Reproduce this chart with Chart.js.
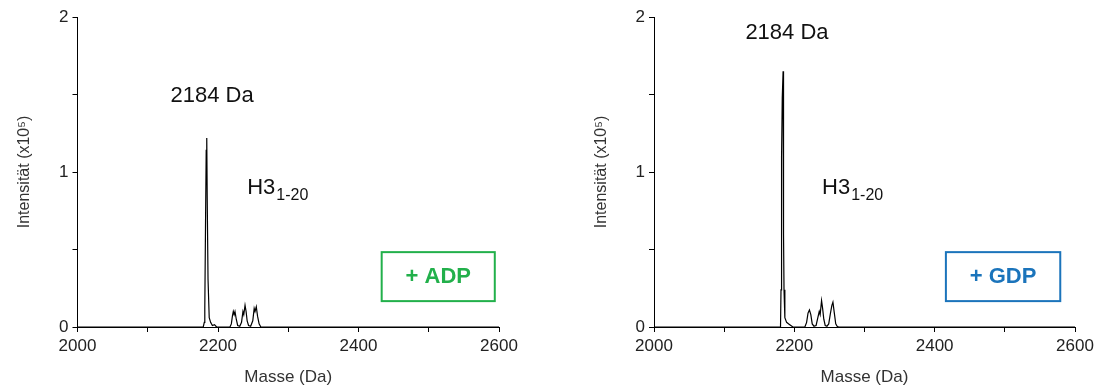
<!DOCTYPE html>
<html>
<head>
<meta charset="utf-8">
<script src="https://cdn.jsdelivr.net/npm/chart.js@4/dist/chart.umd.min.js"></script>
<style>
  html, body { margin: 0; padding: 0; background: #fff; }
  #wrap { position: relative; width: 1098px; height: 390px; }
  canvas { position: absolute; top: 0; }
  #adp { left: 0; }
  #gdp { left: 549px; }
</style>
</head>
<body>
<div id="wrap">
  <canvas id="adp" width="549" height="390"></canvas>
  <canvas id="gdp" width="549" height="390"></canvas>
</div>
<script>
// Axis tick labels
const massTicks = [2000, 2200, 2400, 2600];
const intensityTicks = [0, 1, 2];

// Spectrum with ADP: mass (Da) and intensity (x10^5)
const adpMass = [2000, 2179, 2180.5, 2181.2, 2182.2, 2183.2, 2184, 2184.6, 2185.8, 2187.5, 2189.5, 2192, 2195, 2198,
  2217, 2219, 2220.5, 2221.8, 2223, 2224.2, 2226, 2228, 2231, 2233.5, 2235.5, 2236.7, 2238.5, 2240, 2241.5, 2243.5,
  2246.5, 2249.5, 2251.5, 2252.7, 2254.5, 2256.3, 2258.5, 2261, 2600];
const adpIntensity = [0, 0, 0.03, 0.12, 0.64, 1.14, 1.22, 0.85, 0.31, 0.06, 0.03, 0.01, 0.015, 0,
  0, 0.02, 0.07, 0.1, 0.08, 0.1, 0.05, 0.01, 0.005, 0.03, 0.1, 0.08, 0.14, 0.1, 0.04, 0.01,
  0.005, 0.04, 0.12, 0.1, 0.13, 0.07, 0.02, 0, 0];

// Spectrum with GDP: mass (Da) and intensity (x10^5)
const gdpMass = [2000, 2180.3, 2181, 2181.8, 2182.8, 2184, 2184.4, 2184.8, 2185.3, 2186.5, 2189, 2192, 2195, 2198,
  2215, 2217.5, 2219.5, 2221.5, 2223.5, 2225.5, 2228, 2231, 2233.5, 2235.5, 2236.8, 2238.8, 2240.3, 2242, 2244,
  2246.5, 2249, 2251.5, 2253.5, 2255, 2257, 2259, 2261, 2263, 2600];
const gdpIntensity = [0, 0, 0.24, 1.1, 1.48, 1.65, 1.4, 0.6, 0.24, 0.06, 0.03, 0.02, 0.01, 0,
  0, 0.03, 0.09, 0.11, 0.08, 0.02, 0.005, 0.01, 0.06, 0.1, 0.08, 0.17, 0.12, 0.05, 0.01,
  0.005, 0.02, 0.09, 0.14, 0.16, 0.09, 0.02, 0.005, 0, 0];

// Text
const peakLabel = '2184 Da';
const peptideName = 'H3';
const peptideRange = '1-20';
const xTitle = 'Masse (Da)';
const yTitle = 'Intensität (x10⁵)';

const FONT = '"Liberation Sans", Arial, sans-serif';

// Draws the peak label, peptide name and the boxed condition tag
const notes = {
  id: 'notes',
  afterDatasetsDraw(chart, args, o) {
    const { ctx, scales: { x, y } } = chart;
    ctx.save();
    ctx.fillStyle = '#111';
    ctx.textBaseline = 'middle';

    ctx.font = '22px ' + FONT;
    ctx.textAlign = 'center';
    ctx.fillText(peakLabel, x.getPixelForValue(o.peakAt[0]), y.getPixelForValue(o.peakAt[1]));

    const hx = x.getPixelForValue(o.nameAt[0]);
    const hy = y.getPixelForValue(o.nameAt[1]);
    ctx.textAlign = 'left';
    ctx.fillText(peptideName, hx, hy);
    const w = ctx.measureText(peptideName).width;
    ctx.font = '16px ' + FONT;
    ctx.fillText(peptideRange, hx + w + 1, hy + 8);

    const bx0 = x.getPixelForValue(o.box[0]);
    const bx1 = x.getPixelForValue(o.box[1]);
    const byTop = y.getPixelForValue(o.box[3]);
    const byBot = y.getPixelForValue(o.box[2]);
    ctx.strokeStyle = o.color;
    ctx.lineWidth = 2;
    ctx.strokeRect(bx0, byTop, bx1 - bx0, byBot - byTop);
    ctx.fillStyle = o.color;
    ctx.font = 'bold 22px ' + FONT;
    ctx.textAlign = 'center';
    ctx.fillText(o.tag, (bx0 + bx1) / 2, (byTop + byBot) / 2);
    ctx.restore();
  }
};

function makeChart(id, mass, intensity, o) {
  return new Chart(document.getElementById(id), {
    type: 'scatter',
    data: {
      datasets: [{
        data: mass.map((m, i) => ({ x: m, y: intensity[i] })),
        showLine: true,
        borderColor: '#000',
        borderWidth: 1.2,
        pointRadius: 0,
        tension: 0
      }]
    },
    options: {
      responsive: false,
      animation: false,
      devicePixelRatio: 1,
      layout: { padding: { left: o.padLeft, right: o.padRight, top: 17, bottom: 0 } },
      plugins: { legend: { display: false }, tooltip: { enabled: false }, notes: o },
      scales: {
        x: {
          type: 'linear', min: 2000, max: 2600,
          afterFit(s) { s.height = 63; },
          ticks: {
            stepSize: 100, autoSkip: false, maxRotation: 0, padding: 4, color: '#222',
            font: { size: 17, family: FONT },
            callback: v => massTicks.includes(v) ? String(v) : ''
          },
          grid: { drawOnChartArea: false, tickLength: 5, tickColor: '#000', tickWidth: 1 },
          border: { color: '#000', width: 1 },
          title: { display: true, text: xTitle, color: '#333', font: { size: 17, family: FONT }, padding: { top: 0, bottom: 2 } }
        },
        y: {
          type: 'linear', min: 0, max: 2,
          afterFit(s) { s.width = 77.5; },
          ticks: {
            stepSize: 0.5, autoSkip: false, padding: 4, color: '#222',
            font: { size: 17, family: FONT },
            callback: v => intensityTicks.includes(v) ? String(v) : ''
          },
          grid: { drawOnChartArea: false, tickLength: 5, tickColor: '#000', tickWidth: 1 },
          border: { color: '#000', width: 1 },
          title: { display: true, text: yTitle, color: '#333', font: { size: 16, family: FONT }, padding: { top: 15, bottom: 0 } }
        }
      }
    },
    plugins: [notes]
  });
}

makeChart('adp', adpMass, adpIntensity, {
  padLeft: 0, padRight: 50,
  peakAt: [2191.5, 1.49], nameAt: [2241.5, 0.9],
  box: [2433, 2594, 0.167, 0.483], color: '#22b04b', tag: '+ ADP'
});
makeChart('gdp', gdpMass, gdpIntensity, {
  padLeft: 27.5, padRight: 23,
  peakAt: [2189.5, 1.9], nameAt: [2239.5, 0.9],
  box: [2416, 2579, 0.167, 0.483], color: '#1b74bb', tag: '+ GDP'
});
</script>
</body>
</html>
